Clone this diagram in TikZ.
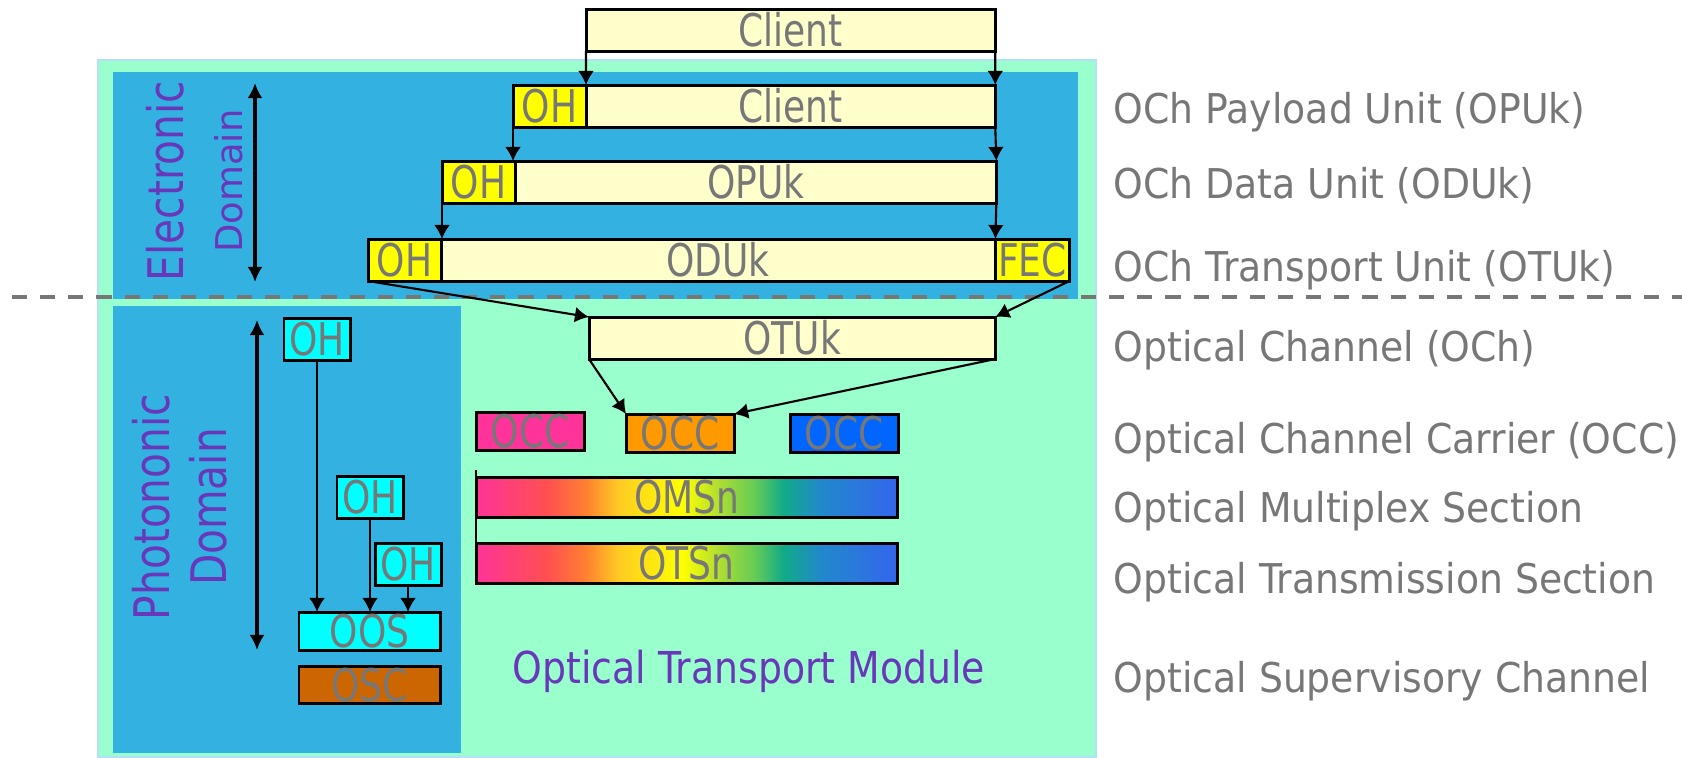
\documentclass[tikz,border=0pt]{standalone}
\usepackage{fontspec}
\setmainfont[FakeStretch=0.92]{DejaVu Sans}
\newfontfamily\boxfont[FakeStretch=0.8]{DejaVu Sans}
\newfontfamily\domfont[FakeStretch=0.83]{DejaVu Sans}
\newfontfamily\otmfont[FakeStretch=0.86]{DejaVu Sans}
\newfontfamily\plainfont{DejaVu Sans}
\usepackage{xcolor}
\usepackage{tikz}
\usetikzlibrary{arrows.meta,positioning}

\definecolor{mint}{RGB}{153,255,204}
\definecolor{sky}{RGB}{51,178,226}
\definecolor{cream}{RGB}{255,255,204}
\definecolor{ohyellow}{RGB}{255,255,0}
\definecolor{ohcyanfill}{RGB}{0,255,255}
\definecolor{labelgray}{RGB}{119,119,119}
\definecolor{domviolet}{RGB}{105,55,185}
\definecolor{occpink}{RGB}{255,51,153}
\definecolor{occorange}{RGB}{255,153,0}
\definecolor{occblue}{RGB}{0,102,255}
\definecolor{oscbrown}{RGB}{204,102,0}
\definecolor{paleedge}{RGB}{180,225,250}
\definecolor{specred}{RGB}{255,80,80}
\definecolor{specorange}{RGB}{255,128,48}
\definecolor{specgold}{RGB}{255,204,34}
\definecolor{specyellow}{RGB}{255,255,0}
\definecolor{speclime}{RGB}{170,221,51}
\definecolor{specgreen}{RGB}{102,204,85}
\definecolor{specteal}{RGB}{17,170,136}
\definecolor{specsteel}{RGB}{34,136,204}
\definecolor{specblue}{RGB}{51,102,238}
\pgfdeclarehorizontalshading{spectrum}{100bp}{color(0bp)=(occpink); color(25bp)=(occpink);
color(33.5bp)=(specred); color(38bp)=(specorange); color(42bp)=(specgold);
color(49.5bp)=(specyellow); color(54bp)=(speclime); color(58bp)=(specgreen);
color(61.5bp)=(specteal); color(66bp)=(specsteel); color(75bp)=(specblue); color(100bp)=(specblue)}

\begin{document}
\begin{tikzpicture}[x=0.01cm,y=-0.01cm,
unitbox/.style={rectangle,draw,line width=0.85pt,inner sep=0pt,outer sep=0pt,
minimum height=0.42cm,text height=0.33cm,text depth=0pt,text=labelgray,
font=\boxfont\fontsize{12.8}{14}\selectfont},
paybox/.style={unitbox,fill=cream},
ohbox/.style={unitbox,fill=ohyellow,minimum width=0.73cm},
ohcyan/.style={unitbox,fill=ohcyanfill,minimum width=0.66cm},
occbox/.style={unitbox,minimum width=1.08cm,minimum height=0.38cm},
bandbox/.style={unitbox,shade,shading=spectrum,minimum width=4.21cm,minimum height=0.4cm},
layerlabel/.style={anchor=base west,inner sep=0pt,text=labelgray,font=\fontsize{11.67}{14}\selectfont},
domtext/.style={rotate=90,align=center,inner sep=0pt,text=domviolet},
arrow/.style={-{Latex[length=4pt,width=4.5pt]},line width=0.6pt},
spanarrow/.style={{Latex[length=4.3pt,width=4.3pt]}-{Latex[length=4.3pt,width=4.3pt]},line width=1.1pt}]
\useasboundingbox (0,0) rectangle (1682,757);
\fill[mint,draw=paleedge,line width=0.6pt] (98,60) rectangle (1096,757);
\fill[sky] (113,72) rectangle (1078,299);
\fill[sky] (113,306) rectangle (461,753);
\draw[labelgray,line width=0.9pt,dash pattern=on 4.3pt off 3.7pt] (12,297) -- (1682,297);

\node[paybox,minimum width=4.09cm,anchor=north west] (client) at (586,9) {Client};
\node[ohbox,anchor=north west] (ohOpu) at (513,85) {OH};
\node[paybox,right=0pt of ohOpu,minimum width=4.09cm] (clientOpu) {Client};
\node[ohbox,anchor=north west] (ohOdu) at (442,161) {OH};
\node[paybox,right=0pt of ohOdu,minimum width=4.81cm] (opu) {OPUk};
\node[ohbox,anchor=north west] (ohOtu) at (368,239) {OH};
\node[paybox,right=0pt of ohOtu,minimum width=5.54cm] (odu) {ODUk};
\node[ohbox,right=0pt of odu,minimum width=0.74cm] (fec) {FEC};
\node[paybox,minimum width=4.06cm,anchor=north west] (otu) at (589,317) {OTUk};

\node[occbox,fill=occpink,anchor=north west] (occA) at (476,412) {OCC};
\node[occbox,fill=occorange,anchor=north west] (occB) at (626,414) {OCC};
\node[occbox,fill=occblue,anchor=north west] (occC) at (790,414) {OCC};
\node[bandbox,anchor=north west] (oms) at (476,477) {OMSn};
\node[bandbox,below=0.26cm of oms] (ots) {OTSn};

\node[ohcyan,anchor=north west] (ohOch) at (284,318) {OH};
\node[ohcyan,anchor=north west] (ohOms) at (337,476) {OH};
\node[ohcyan,anchor=north west] (ohOts) at (375,543) {OH};
\node[unitbox,fill=ohcyanfill,minimum width=1.41cm,minimum height=0.38cm,anchor=north west] (oos) at (299,612) {OOS};
\node[unitbox,fill=oscbrown,minimum width=1.41cm,minimum height=0.37cm,below=0.16cm of oos] (osc) {OSC};

\node[domtext,font=\domfont\fontsize{13.94}{16.8}\selectfont] (elecDom) at (195,181)
{Electronic\\{\plainfont\fontsize{10.5}{16.8}\selectfont Domain}};
\node[domtext,font=\domfont\fontsize{13.94}{16.2}\selectfont] (photDom) at (180,507)
{Photononic\\Domain};
\node[anchor=base west,inner sep=0pt,text=domviolet,font=\otmfont\fontsize{12.5}{14}\selectfont] (otm) at (512,683)
{Optical Transport Module};

\coordinate (elecTop) at (255,83);
\coordinate (elecBot) at (255,282);
\coordinate (photTop) at (257,320);
\coordinate (photBot) at (257,650);
\draw[spanarrow] (elecTop) -- (elecBot);
\draw[spanarrow] (photTop) -- (photBot);

\draw[arrow] (client.south west) -- (clientOpu.north west);
\draw[arrow] (client.south east) -- (clientOpu.north east);
\draw[arrow] (ohOpu.south west) -- (ohOpu.south west |- ohOdu.north);
\draw[arrow] (clientOpu.south east) -- (opu.north east);
\draw[arrow] (ohOdu.south west) -- (ohOdu.south west |- ohOtu.north);
\draw[arrow] (opu.south east) -- (odu.north east);
\draw[arrow] (ohOtu.south west) -- (otu.north west);
\draw[arrow] (fec.south east) -- (otu.north east);
\draw[arrow] (otu.south west) -- (occB.north west);
\draw[arrow] (otu.south east) -- (occB.north east);
\draw[line width=0.5pt] ([yshift=0.07cm]oms.north west) -- (ots.south west);
\draw[arrow] (ohOch.south) -- (ohOch.south |- oos.north);
\draw[arrow] (ohOms.south) -- (ohOms.south |- oos.north);
\draw[arrow] (ohOts.south) -- (ohOts.south |- oos.north);

\node[layerlabel] (lblOpu) at (1113,123) {OCh Payload Unit (OPUk)};
\node[layerlabel] (lblOdu) at (1113,198) {OCh Data Unit (ODUk)};
\node[layerlabel] (lblOtu) at (1113,281) {OCh Transport Unit (OTUk)};
\node[layerlabel] (lblOch) at (1113,361) {Optical Channel (OCh)};
\node[layerlabel] (lblOcc) at (1113,453) {Optical Channel Carrier (OCC)};
\node[layerlabel] (lblOms) at (1113,522) {Optical Multiplex Section};
\node[layerlabel] (lblOts) at (1113,593) {Optical Transmission Section};
\node[layerlabel] (lblOsc) at (1113,692) {Optical Supervisory Channel};
\end{tikzpicture}
\end{document}
